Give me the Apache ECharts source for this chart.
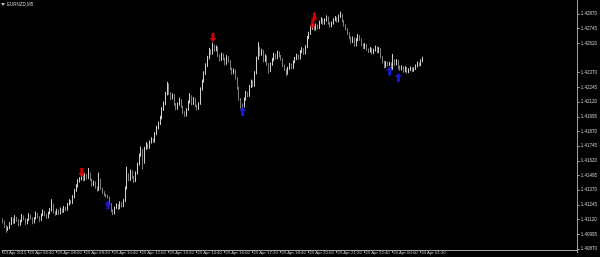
<!DOCTYPE html>
<html>
<head>
<meta charset="utf-8">
<script src="https://cdn.jsdelivr.net/npm/echarts@6/dist/echarts.min.js"></script>
<style>
html,body{margin:0;padding:0;background:#000;}
#c{width:600px;height:257px;}
</style>
</head>
<body>
<div id="c"></div>
<script>
// ---- data (EURNZD, M5 bars) ----
const symbolName = 'EURNZD,M5';
const firstOpen = 1.41115;
const closes = [
1.41100,1.41065,1.41032,1.41048,1.41086,1.41120,1.41094,1.41135,1.41112,1.41078,
1.41106,1.41143,1.41125,1.41089,1.41117,1.41152,1.41130,1.41096,1.41128,1.41164,
1.41141,1.41115,1.41158,1.41183,1.41160,1.41137,1.41174,1.41196,1.41245,1.41182,
1.41169,1.41198,1.41172,1.41205,1.41186,1.41219,1.41202,1.41248,1.41275,1.41261,
1.41310,1.41365,1.41402,1.41448,1.41463,1.41485,1.41459,1.41497,1.41472,1.41508,
1.41460,1.41413,1.41438,1.41395,1.41372,1.41456,1.41384,1.41351,1.41330,1.41320,
1.41308,1.41252,1.41196,1.41173,1.41218,1.41240,1.41215,1.41262,1.41234,1.41279,
1.41385,1.41502,1.41460,1.41528,1.41483,1.41446,1.41512,1.41589,1.41665,1.41710,
1.41605,1.41724,1.41758,1.41731,1.41776,1.41802,1.41785,1.41847,1.41899,1.41936,
1.41983,1.42057,1.42104,1.42186,1.42268,1.42195,1.42152,1.42178,1.42101,1.42064,
1.42098,1.42135,1.42082,1.42031,1.42006,1.42053,1.42118,1.42169,1.42104,1.42147,
1.42089,1.42062,1.42105,1.42227,1.42294,1.42361,1.42428,1.42493,1.42557,1.42532,
1.42598,1.42561,1.42584,1.42516,1.42479,1.42523,1.42490,1.42446,1.42502,1.42468,
1.42405,1.42367,1.42389,1.42324,1.42240,1.42146,1.42098,1.42083,1.42142,1.42196,
1.42174,1.42248,1.42293,1.42260,1.42365,1.42489,1.42582,1.42524,1.42556,1.42471,
1.42508,1.42443,1.42386,1.42439,1.42477,1.42521,1.42494,1.42540,1.42512,1.42485,
1.42431,1.42398,1.42362,1.42405,1.42438,1.42412,1.42460,1.42487,1.42515,1.42492,
1.42546,1.42569,1.42534,1.42588,1.42665,1.42701,1.42748,1.42765,1.42739,1.42772,
1.42750,1.42796,1.42823,1.42788,1.42815,1.42840,1.42792,1.42766,1.42789,1.42817,
1.42834,1.42808,1.42846,1.42862,1.42810,1.42774,1.42742,1.42705,1.42668,1.42631,
1.42660,1.42604,1.42647,1.42681,1.42653,1.42610,1.42582,1.42606,1.42569,1.42550,
1.42573,1.42538,1.42559,1.42584,1.42546,1.42571,1.42503,1.42462,1.42420,1.42452,
1.42436,1.42448,1.42403,1.42475,1.42441,1.42469,1.42422,1.42398,1.42416,1.42382,
1.42409,1.42375,1.42393,1.42408,1.42387,1.42402,1.42425,1.42449,1.42436,1.42468,
1.42493];
const highs = [
1.41130,1.41112,1.41073,1.41061,1.41099,1.41142,1.41131,1.41158,1.41144,1.41123,
1.41119,1.41168,1.41156,1.41132,1.41128,1.41175,1.41163,1.41139,1.41141,1.41189,
1.41175,1.41150,1.41171,1.41206,1.41194,1.41169,1.41187,1.41218,1.41293,1.41256,
1.41194,1.41212,1.41207,1.41223,1.41214,1.41236,1.41228,1.41263,1.41294,1.41286,
1.41328,1.41381,1.41420,1.41465,1.41482,1.41506,1.41498,1.41519,1.41508,1.41560,
1.41519,1.41469,1.41452,1.41446,1.41404,1.41520,1.41467,1.41393,1.41362,1.41341,
1.41332,1.41315,1.41261,1.41208,1.41230,1.41257,1.41251,1.41276,1.41271,1.41295,
1.41402,1.41570,1.41514,1.41546,1.41537,1.41492,1.41530,1.41605,1.41683,1.41742,
1.41721,1.41740,1.41779,1.41769,1.41793,1.41821,1.41813,1.41864,1.41918,1.41955,
1.42004,1.42076,1.42125,1.42208,1.42293,1.42279,1.42204,1.42195,1.42187,1.42112,
1.42116,1.42157,1.42144,1.42090,1.42042,1.42069,1.42134,1.42196,1.42178,1.42163,
1.42155,1.42098,1.42119,1.42245,1.42313,1.42382,1.42450,1.42514,1.42581,1.42570,
1.42626,1.42610,1.42602,1.42593,1.42525,1.42541,1.42534,1.42499,1.42520,1.42511,
1.42477,1.42414,1.42406,1.42398,1.42333,1.42249,1.42155,1.42110,1.42159,1.42214,
1.42208,1.42265,1.42312,1.42304,1.42383,1.42507,1.42630,1.42593,1.42574,1.42565,
1.42526,1.42517,1.42452,1.42457,1.42495,1.42540,1.42532,1.42558,1.42551,1.42521,
1.42494,1.42440,1.42407,1.42421,1.42454,1.42447,1.42476,1.42505,1.42532,1.42524,
1.42563,1.42587,1.42578,1.42605,1.42683,1.42719,1.42766,1.42784,1.42774,1.42790,
1.42781,1.42813,1.42842,1.42832,1.42833,1.42858,1.42849,1.42801,1.42806,1.42834,
1.42852,1.42843,1.42864,1.42890,1.42871,1.42819,1.42783,1.42751,1.42714,1.42677,
1.42678,1.42669,1.42665,1.42699,1.42690,1.42662,1.42619,1.42623,1.42615,1.42578,
1.42589,1.42582,1.42575,1.42601,1.42593,1.42588,1.42580,1.42512,1.42471,1.42469,
1.42463,1.42462,1.42457,1.42530,1.42484,1.42486,1.42478,1.42431,1.42433,1.42425,
1.42426,1.42418,1.42409,1.42422,1.42417,1.42416,1.42440,1.42465,1.42458,1.42484,
1.42506];
const lows = [
1.41087,1.41049,1.41008,1.41024,1.41039,1.41075,1.41082,1.41086,1.41101,1.41062,
1.41069,1.41098,1.41114,1.41073,1.41081,1.41109,1.41121,1.41080,1.41087,1.41120,
1.41130,1.41102,1.41108,1.41150,1.41148,1.41125,1.41130,1.41165,1.41189,1.41171,
1.41153,1.41160,1.41161,1.41164,1.41175,1.41179,1.41191,1.41196,1.41239,1.41250,
1.41254,1.41302,1.41356,1.41393,1.41436,1.41454,1.41447,1.41451,1.41460,1.41464,
1.41448,1.41400,1.41405,1.41382,1.41358,1.41365,1.41373,1.41339,1.41318,1.41309,
1.41298,1.41240,1.41183,1.41158,1.41165,1.41209,1.41203,1.41208,1.41222,1.41226,
1.41270,1.41376,1.41448,1.41451,1.41470,1.41431,1.41439,1.41504,1.41580,1.41656,
1.41546,1.41596,1.41715,1.41719,1.41722,1.41767,1.41773,1.41776,1.41838,1.41887,
1.41925,1.41974,1.42046,1.42095,1.42177,1.42182,1.42138,1.42143,1.42088,1.42050,
1.42055,1.42089,1.42070,1.42018,1.41993,1.41998,1.42045,1.42109,1.42092,1.42096,
1.42077,1.42049,1.42054,1.42097,1.42218,1.42285,1.42352,1.42419,1.42484,1.42520,
1.42524,1.42549,1.42552,1.42503,1.42466,1.42470,1.42478,1.42433,1.42438,1.42456,
1.42392,1.42354,1.42358,1.42311,1.42227,1.42133,1.42064,1.42056,1.42074,1.42133,
1.42162,1.42165,1.42239,1.42248,1.42251,1.42356,1.42480,1.42511,1.42515,1.42458,
1.42462,1.42430,1.42364,1.42377,1.42430,1.42468,1.42482,1.42485,1.42500,1.42473,
1.42418,1.42385,1.42340,1.42353,1.42396,1.42400,1.42403,1.42451,1.42478,1.42480,
1.42483,1.42537,1.42522,1.42525,1.42579,1.42656,1.42692,1.42736,1.42727,1.42730,
1.42738,1.42741,1.42787,1.42776,1.42779,1.42806,1.42780,1.42754,1.42757,1.42780,
1.42808,1.42796,1.42799,1.42837,1.42798,1.42762,1.42730,1.42693,1.42656,1.42619,
1.42622,1.42591,1.42595,1.42638,1.42641,1.42598,1.42570,1.42573,1.42557,1.42538,
1.42541,1.42526,1.42529,1.42550,1.42534,1.42537,1.42491,1.42450,1.42408,1.42411,
1.42424,1.42429,1.42391,1.42394,1.42429,1.42432,1.42400,1.42386,1.42389,1.42370,
1.42373,1.42363,1.42366,1.42384,1.42375,1.42378,1.42393,1.42416,1.42424,1.42427,
1.42459];

// signal arrows: [bar index, price]
const sellArrows = [[45, 1.41521], [120, 1.42670], [177, 1.42785], [178, 1.42844]];
const buyArrows  = [[60, 1.41244], [137, 1.42040], [221, 1.42385], [226, 1.42329]];

// price axis labels
const priceTicks = [1.42870,1.42745,1.42620,1.42370,1.42245,1.42120,1.41995,1.41870,
  1.41745,1.41620,1.41495,1.41370,1.41245,1.41120,1.40995,1.40870];

// time axis labels and the bar they sit on
const timeTickLabels = ['23 Apr 2015','23 Apr 06:40','23 Apr 08:00','23 Apr 09:20','23 Apr 10:40',
  '23 Apr 12:00','23 Apr 13:20','23 Apr 14:40','23 Apr 16:00','23 Apr 17:20','23 Apr 18:40',
  '23 Apr 20:00','23 Apr 21:20','23 Apr 22:40','24 Apr 00:00','24 Apr 01:20'];
const timeTickBars = [0,15,31,47,63,79,95,111,127,143,159,175,191,207,223,239];

const slotCount = 329;          // visible bar slots across the chart width
const firstBarMinutes = 5*60+25; // 23 Apr 05:25
const barMinutes = 5;

// ---- build ----
const pad = n => String(n).padStart(2,'0');
const categories = [];
for (let i = 0; i < slotCount; i++) {
  const t = firstBarMinutes + barMinutes*i;
  const d = 23 + Math.floor(t/1440), m = t % 1440;
  categories.push(d + ' Apr ' + pad(Math.floor(m/60)) + ':' + pad(m%60));
}
// M5 forex bars: each bar opens at the previous bar's close
const ohlc = closes.map((c, i) => [i === 0 ? firstOpen : closes[i-1], c, lows[i], highs[i]]);
const lastPrice = closes[closes.length-1];

const font = 'Liberation Sans';
const showTick = (idx) => timeTickBars.indexOf(idx) >= 0;
const downArrow = 'path://M2,0 L5,0 L5,5 L7,5 L3.5,9 L0,5 L2,5 Z';
const upArrow = 'path://M3.5,0 L7,4 L5,4 L5,9 L2,9 L2,4 L0,4 Z';

const chart = echarts.init(document.getElementById('c'), null, {renderer:'canvas'});
chart.setOption({
  backgroundColor: '#000000',
  animation: false,
  graphic: [
    {type:'polygon', left:1, top:3, shape:{points:[[0,0],[4,0],[2,3]]}, style:{fill:'#c0c0c0'}},
    {type:'text', left:7, top:2, style:{text:symbolName, fill:'#c8c8c8', font:'4.5px ' + font}}
  ],
  grid: {left:0, right:18, top:0, bottom:7},
  xAxis: {
    type:'category',
    data: categories,
    boundaryGap: true,
    axisLine: {show:true, lineStyle:{color:'#a0a0a0', width:1}},
    axisTick: {show:true, length:3, interval:(idx)=>showTick(idx), lineStyle:{color:'#a0a0a0'}},
    axisLabel: {
      show:true, interval:(idx)=>showTick(idx), margin:1, align:'left',
      color:'#c8c8c8', fontSize:4.3, fontFamily:font,
      formatter:(v, idx)=> timeTickLabels[timeTickBars.indexOf(idx)]
    },
    splitLine:{show:false}
  },
  yAxis: {
    type:'value',
    position:'right',
    min: 1.408615,
    max: 1.429891,
    scale: true,
    axisLine: {show:true, lineStyle:{color:'#a0a0a0', width:1}},
    axisTick: {show:true, length:2, inside:false, customValues: priceTicks, lineStyle:{color:'#a0a0a0'}},
    axisLabel: {
      show:true, margin:3, color:'#c8c8c8', fontSize:4.5, fontFamily:font,
      customValues: priceTicks, formatter:(v)=>v.toFixed(5)
    },
    splitLine:{show:false}
  },
  series: [
    {
      type:'candlestick',
      data: ohlc,
      barWidth: 0.8,
      itemStyle: {
        color:'#cfcfcf', color0:'#7c7c7c',
        borderColor:'#cfcfcf', borderColor0:'#7c7c7c', borderWidth:1
      },
      markLine: {
        silent:true, symbol:['none','none'],
        lineStyle:{opacity:0},
        label:{
          position:'end', distance:0, formatter:(p)=>p.value.toFixed(5),
          backgroundColor:'#ffffff', color:'#000000', fontSize:4.5, fontFamily:font,
          padding:[1,1,1,1]
        },
        data:[{yAxis:lastPrice}]
      }
    },
    {
      type:'scatter', data: sellArrows, symbol: downArrow, symbolSize:[7,9],
      itemStyle:{color:'#ff0000'}, z:5
    },
    {
      type:'scatter', data: buyArrows, symbol: upArrow, symbolSize:[7,9],
      itemStyle:{color:'#1e1eff'}, z:5
    }
  ]
});
</script>
</body>
</html>
